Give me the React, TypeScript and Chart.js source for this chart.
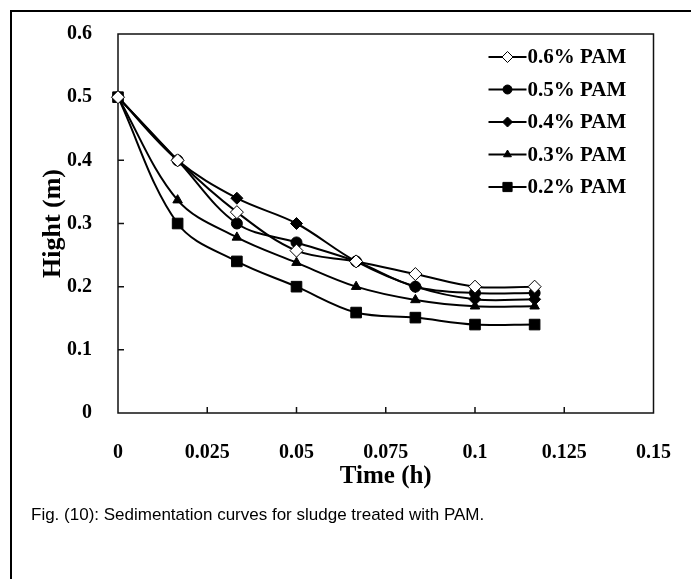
import React, { useEffect, useRef } from "react";
import { Chart, registerables } from "chart.js";
import { drawPoint } from "chart.js/helpers";

Chart.register(...registerables);

// ---- data ----
const timeH = [0, 0.0167, 0.0333, 0.05, 0.0667, 0.0833, 0.1, 0.1167];
const seriesLabels = ["0.6% PAM", "0.5% PAM", "0.4% PAM", "0.3% PAM", "0.2% PAM"];
const pam06 = [0.5, 0.4, 0.318, 0.257, 0.24, 0.22, 0.2, 0.2];
const pam05 = [0.5, 0.4, 0.3, 0.27, 0.24, 0.2, 0.19, 0.19];
const pam04 = [0.5, 0.4, 0.34, 0.3, 0.24, 0.2, 0.18, 0.18];
const pam03 = [0.5, 0.337, 0.278, 0.238, 0.2, 0.179, 0.169, 0.169];
const pam02 = [0.5, 0.3, 0.24, 0.2, 0.159, 0.151, 0.14, 0.14];
const xTickLabels = ["0", "0.025", "0.05", "0.075", "0.1", "0.125", "0.15"];
const yTickLabels = ["0", "0.1", "0.2", "0.3", "0.4", "0.5", "0.6"];

const SERIF = '"Liberation Serif", "Times New Roman", serif';

const styles = [
  { pointStyle: "rectRot", radius: 6.5, fill: "#ffffff" },
  { pointStyle: "circle", radius: 5.5, fill: "#000000" },
  { pointStyle: "rectRot", radius: 6, fill: "#000000" },
  { pointStyle: "triangle", radius: 5.5, fill: "#000000" },
  { pointStyle: "rect", radius: 7.5, fill: "#000000" },
];

const allSeries = [pam06, pam05, pam04, pam03, pam02];

const decorPlugin = {
  id: "decor",
  beforeDatasetsDraw(chart: any) {
    const { ctx, chartArea: a, scales } = chart;
    const x = scales.x;
    const y = scales.y;
    ctx.save();
    ctx.strokeStyle = "#111";
    ctx.lineWidth = 1.5;
    ctx.strokeRect(a.left, a.top, a.right - a.left, a.bottom - a.top);
    ctx.beginPath();
    x.ticks.forEach((t: any) => {
      const px = x.getPixelForValue(t.value);
      if (px > a.left + 1 && px < a.right - 1) {
        ctx.moveTo(px, a.bottom);
        ctx.lineTo(px, a.bottom - 6);
      }
    });
    y.ticks.forEach((t: any) => {
      const py = y.getPixelForValue(t.value);
      if (py > a.top + 1 && py < a.bottom - 1) {
        ctx.moveTo(a.left, py);
        ctx.lineTo(a.left + 6, py);
      }
    });
    ctx.stroke();
    ctx.restore();
  },
  afterDraw(chart: any) {
    const { ctx, chartArea: a } = chart;
    ctx.save();
    chart.data.datasets.forEach((ds: any, i: number) => {
      const cy = a.top + 23 + i * 32.5;
      const x0 = a.right - 165;
      const x1 = a.right - 127;
      ctx.strokeStyle = "#000";
      ctx.lineWidth = 2;
      ctx.beginPath();
      ctx.moveTo(x0, cy);
      ctx.lineTo(x1, cy);
      ctx.stroke();
      const st = styles[i];
      ctx.fillStyle = st.fill;
      ctx.strokeStyle = "#000";
      ctx.lineWidth = 1;
      drawPoint(ctx, { pointStyle: st.pointStyle, radius: st.radius - 1, rotation: 0, borderWidth: 1 } as any, (x0 + x1) / 2, cy);
      ctx.fillStyle = "#000";
      ctx.font = `bold 21px ${SERIF}`;
      ctx.textBaseline = "middle";
      ctx.textAlign = "left";
      ctx.fillText(ds.label, x1 + 1, cy + 1);
    });
    ctx.restore();
  },
};

export default function App() {
  const ref = useRef<HTMLCanvasElement | null>(null);

  useEffect(() => {
    if (!ref.current) return;
    const datasets = allSeries.map((vals, i) => ({
      label: seriesLabels[i],
      data: vals.map((v, j) => ({ x: timeH[j], y: v })),
      borderColor: "#000",
      borderWidth: 2,
      backgroundColor: styles[i].fill,
      pointBackgroundColor: styles[i].fill,
      pointBorderColor: "#000",
      pointBorderWidth: 1,
      pointStyle: styles[i].pointStyle,
      pointRadius: styles[i].radius,
      tension: 0.35,
      fill: false,
      clip: false as any,
    }));
    const chart = new Chart(ref.current, {
      type: "line",
      data: { datasets },
      plugins: [decorPlugin],
      options: {
        responsive: false,
        animation: false,
        layout: { padding: { left: 38, top: 34, right: 37, bottom: 83 } },
        plugins: {
          legend: { display: false },
          tooltip: { enabled: false },
        },
        scales: {
          x: {
            type: "linear",
            min: 0,
            max: 0.15,
            grid: { display: false },
            border: { display: false },
            ticks: {
              stepSize: 0.025,
              padding: 20,
              color: "#000",
              font: { family: SERIF, size: 20, weight: "bold" },
              maxRotation: 0,
              callback: (_v: any, idx: number) => xTickLabels[idx],
            },
            title: {
              display: true,
              text: "Time (h)",
              color: "#000",
              font: { family: SERIF, size: 25, weight: "bold" },
              padding: { top: 0, bottom: 4 },
            },
            afterFit: (s: any) => {
              s.height = 83;
            },
          },
          y: {
            min: 0,
            max: 0.6,
            grid: { display: false },
            border: { display: false },
            ticks: {
              stepSize: 0.1,
              padding: 18,
              color: "#000",
              font: { family: SERIF, size: 20, weight: "bold" },
              callback: (_v: any, idx: number) => yTickLabels[idx],
            },
            title: {
              display: true,
              text: "Hight (m)",
              color: "#000",
              font: { family: SERIF, size: 26, weight: "bold" },
              padding: { top: 0, bottom: 0 },
            },
            afterFit: (s: any) => {
              s.width = 80;
            },
          },
        },
      } as any,
    });
    return () => chart.destroy();
  }, []);

  return (
    <div style={{ position: "fixed", left: 0, top: 0, width: 691, height: 579, background: "#fff", overflow: "hidden" }}>
      <div
        style={{
          position: "absolute",
          left: 10,
          top: 10,
          width: 700,
          height: 600,
          borderLeft: "2px solid #000",
          borderTop: "2px solid #000",
        }}
      />
      <canvas ref={ref} width={691} height={579} style={{ position: "absolute", left: 0, top: 0, display: "block" }} />
      <div
        style={{
          position: "absolute",
          left: 31,
          top: 505,
          fontFamily: '"Liberation Sans", Arial, sans-serif',
          fontSize: 17,
          lineHeight: "20px",
          color: "#000",
          whiteSpace: "nowrap",
        }}
      >
        Fig. (10): Sedimentation curves for sludge treated with PAM.
      </div>
    </div>
  );
}
